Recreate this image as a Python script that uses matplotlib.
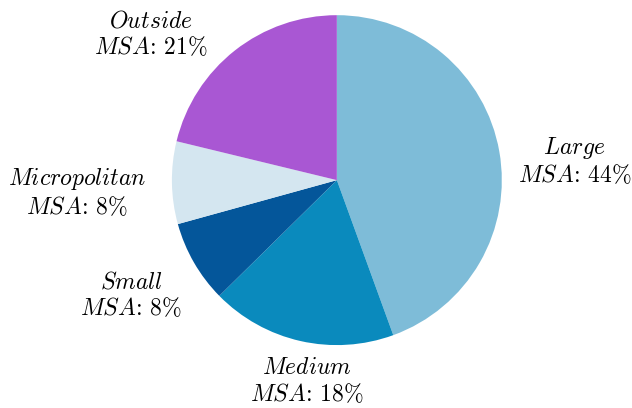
import matplotlib
matplotlib.use("Agg")
import matplotlib.pyplot as plt
import numpy as np

plt.rcParams["mathtext.fontset"] = "cm"
plt.rcParams["font.family"] = "cmr10"

# share of establishments by area type
categories = ["Large", "Medium", "Small", "Micropolitan", "Outside"]
shares = [44, 18, 8, 8, 21]
colors = ["#7EBCD8", "#0A8ABD", "#04569A", "#D4E6F0", "#A957D3"]

# label anchor (radius, angle in degrees) around the pie
label_pos = [(1.447, 4.6), (1.235, -98.5), (1.433, -150.6), (1.578, -177.3), (1.43, 142.0)]

fig = plt.figure(figsize=(6.32, 4.08), dpi=100)
ax = fig.add_axes([0.272, 0.154, 0.522, 0.809])

ax.pie(shares, colors=colors, startangle=90, counterclock=False,
       wedgeprops=dict(linewidth=0))
ax.set_xlim(-1, 1)
ax.set_ylim(-1, 1)
ax.set_aspect("equal")

for name, val, (r, a) in zip(categories, shares, label_pos):
    x = r * np.cos(np.radians(a))
    y = r * np.sin(np.radians(a))
    txt = r"$\mathit{%s}$" % name + "\n" + r"$\mathit{MSA}$: %d%%" % val
    ax.text(x, y, txt, ha="center", va="center", fontsize=17,
            linespacing=1.15, clip_on=False)

fig.savefig("out.png", dpi=100)
